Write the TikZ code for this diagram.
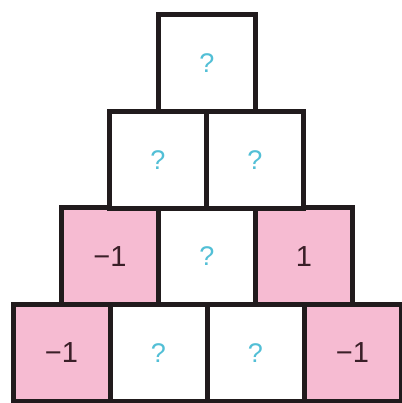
\documentclass[tikz,border=0pt]{standalone}
\usepackage{fontspec}
\setmainfont{Liberation Sans}
\usepackage{xcolor}
\usetikzlibrary{positioning}
\definecolor{Frame}{HTML}{211B1D}
\definecolor{Rose}{HTML}{F6BBD2}
\definecolor{NumInk}{HTML}{3A1F28}
\definecolor{Ask}{HTML}{52BFD6}
\tikzset{
  cell/.style={draw=Frame,line width=5pt,minimum size=97pt,inner sep=0pt,outer sep=0pt,fill=white},
  given/.style={cell,fill=Rose,text=NumInk,font=\fontsize{29}{29}\selectfont},
  unknown/.style={cell,text=Ask,font=\fontsize{27}{27}\selectfont}
}
\begin{document}
\begin{tikzpicture}[x=1pt,y=1pt]
  \useasboundingbox (0,0) rectangle (401,403);
  % bottom row
  \node[given] (b1) at (61.5,50) {−1};
  \node[unknown,right=0pt of b1] (b2) {?};
  \node[unknown,right=0pt of b2] (b3) {?};
  \node[given,right=0pt of b3] (b4) {−1};
  % third row
  \node[given] (c1) at (110,146.5) {−1};
  \node[unknown,right=0pt of c1] (c2) {?};
  \node[given,right=0pt of c2] (c3) {1};
  % second row
  \node[unknown] (d1) at (158,243) {?};
  \node[unknown,right=0pt of d1] (d2) {?};
  % top
  \node[unknown] (e1) at (207,340) {?};
\end{tikzpicture}
\end{document}
